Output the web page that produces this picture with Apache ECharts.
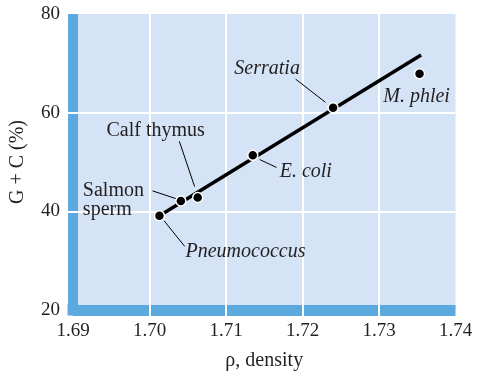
<!DOCTYPE html>
<html>
<head>
<meta charset="utf-8">
<script src="https://cdn.jsdelivr.net/npm/echarts@6/dist/echarts.min.js"></script>
<style>
html,body{margin:0;padding:0;background:#fff;}
#chart{width:477px;height:376px;}
</style>
</head>
<body>
<div id="chart"></div>
<script>
// ---- data ----
var organisms = ['Pneumococcus', 'Salmon\nsperm', 'Calf thymus', 'E. coli', 'Serratia', 'M. phlei'];
var density   = [1.7013, 1.7041, 1.7063, 1.7135, 1.7240, 1.7353];
var gcPercent = [39.1, 42.1, 42.8, 51.35, 61.0, 67.9];
var fitLineX  = [1.7013, 1.7355];
var fitLineY  = [39.1, 71.7];
// leader lines: [labelEndX, labelEndY, pointEndX, pointEndY] in data units
var leaderLines = [
  [1.7019, 38.1, 1.7046, 32.9],
  [1.7004, 44.15, 1.7036, 42.5],
  [1.7039, 54.2, 1.7059, 45.0],
  [1.7144, 50.5, 1.7166, 48.9],
  [1.7191, 66.8, 1.7230, 62.1]
];
var xTicks = [1.69, 1.70, 1.71, 1.72, 1.73, 1.74];
var yTicks = [20, 40, 60, 80];

// ---- styles (label placement, pixels relative to points) ----
var labelStyles = [
  {italic: true,  align: 'center', offset: [86, 36]},
  {italic: false, align: 'left',   offset: [-98, -0.5]},
  {italic: false, align: 'center', offset: [-42, -66.5]},
  {italic: true,  align: 'center', offset: [53, 16]},
  {italic: true,  align: 'center', offset: [-66, -38.5]},
  {italic: true,  align: 'center', offset: [-3, 23.5]}
];

var FONT = 'Liberation Serif';
var TXT = '#231F20';
var BAR = '#5BA9DE';

var pointData = density.map(function (x, i) {
  var s = labelStyles[i];
  return {
    value: [x, gcPercent[i]],
    name: organisms[i],
    label: {
      show: true,
      formatter: organisms[i],
      position: 'inside',
      align: s.align,
      verticalAlign: 'middle',
      offset: s.offset,
      fontStyle: s.italic ? 'italic' : 'normal',
      fontFamily: FONT,
      fontSize: 20,
      lineHeight: 18.5,
      color: TXT
    }
  };
});

var whiteLine = {color: '#fff', width: 2};
var xRange = {type: 'value', min: xTicks[0], max: xTicks[xTicks.length - 1], interval: 0.01};
var yRange = {type: 'value', min: yTicks[0], max: yTicks[yTicks.length - 1], interval: 20};

var chart = echarts.init(document.getElementById('chart'), null, {renderer: 'canvas'});
chart.setOption({
  animation: false,
  grid: {
    left: 73, right: 21.5, top: 14, bottom: 64.5,
    show: true, backgroundColor: '#D4E3F5', borderWidth: 0
  },
  xAxis: [
    Object.assign({}, xRange, {
      position: 'bottom', z: 0,
      name: 'ρ, density', nameLocation: 'middle', nameGap: 41,
      nameTextStyle: {fontFamily: FONT, fontSize: 20, color: TXT},
      axisLine: {show: true, lineStyle: {color: BAR, width: 11, cap: 'butt'}},
      axisTick: {show: false},
      axisLabel: {margin: 12, fontFamily: FONT, fontSize: 19, color: TXT,
        formatter: function (v) { return v.toFixed(2); }},
      splitLine: {show: false}
    }),
    Object.assign({}, xRange, {
      position: 'bottom', z: 1,
      axisLine: {show: false},
      axisTick: {show: true, customValues: xTicks.slice(1, -1), length: 6, inside: false,
        lineStyle: whiteLine},
      axisLabel: {show: false},
      splitLine: {show: true, lineStyle: whiteLine}
    })
  ],
  yAxis: [
    Object.assign({}, yRange, {
      position: 'left', z: 0,
      name: 'G + C (%)', nameLocation: 'middle', nameGap: 45,
      nameTextStyle: {fontFamily: FONT, fontSize: 20, color: TXT},
      axisLine: {show: true, symbol: ['rect', 'none'], symbolSize: [11, 11],
        lineStyle: {color: BAR, width: 10, cap: 'butt'}},
      axisTick: {show: false},
      axisLabel: {margin: 13, fontFamily: FONT, fontSize: 19, color: TXT},
      splitLine: {show: false}
    }),
    Object.assign({}, yRange, {
      position: 'left', z: 1,
      axisLine: {show: false},
      axisTick: {show: true, customValues: yTicks.slice(1, -1), length: 5, inside: false,
        lineStyle: whiteLine},
      axisLabel: {show: false},
      splitLine: {show: true, lineStyle: whiteLine}
    })
  ],
  series: [
    {
      type: 'line',
      xAxisIndex: 0, yAxisIndex: 0,
      data: fitLineX.map(function (x, i) { return [x, fitLineY[i]]; }),
      showSymbol: false,
      lineStyle: {color: '#000', width: 3.5},
      z: 2
    },
    {
      type: 'lines',
      coordinateSystem: 'cartesian2d',
      xAxisIndex: 0, yAxisIndex: 0,
      data: leaderLines.map(function (l) { return {coords: [[l[0], l[1]], [l[2], l[3]]]}; }),
      lineStyle: {color: '#000', width: 1, opacity: 1},
      z: 3
    },
    {
      type: 'scatter',
      xAxisIndex: 0, yAxisIndex: 0,
      data: pointData,
      symbol: 'circle',
      symbolSize: 10,
      itemStyle: {color: '#000', borderColor: '#fff', borderWidth: 1.5, opacity: 1},
      z: 4
    }
  ]
});
</script>
</body>
</html>
